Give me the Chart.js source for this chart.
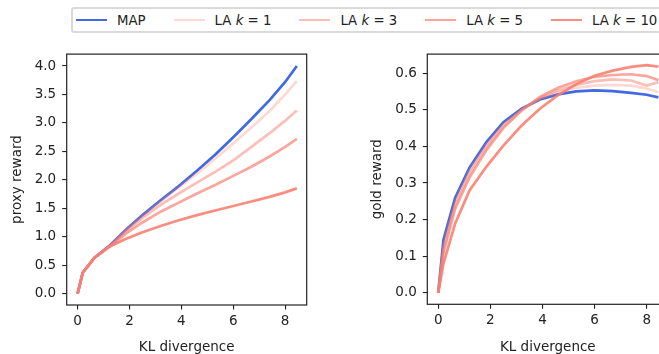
<!DOCTYPE html>
<html>
<head>
<meta charset="utf-8">
<script src="https://cdn.jsdelivr.net/npm/chart.js@4.4.1/dist/chart.umd.min.js"></script>
<style>
  html, body { margin: 0; padding: 0; width: 659px; height: 354px; overflow: hidden; background: #fff; }
  body { position: relative; font-family: "DejaVu Sans", sans-serif; }
  #legend {
    position: absolute; left: 71px; top: 7px; height: 22px; width: 620px;
    border: 2px solid #d9d9d9; border-radius: 3px; display: flex; align-items: center;
    font-size: 13.3px; color: #222; white-space: nowrap;
  }
  .item { display: flex; align-items: center; margin-right: 28px; }
  .item:first-child { margin-left: 3px; }
  .swatch { width: 31px; height: 2.7px; margin-right: 10px; }
  canvas { position: absolute; }
</style>
</head>
<body>
<div id="legend"></div>
<canvas id="proxy" width="330" height="316" style="left:0;top:40px"></canvas>
<canvas id="gold" width="360" height="316" style="left:330px;top:40px"></canvas>
<script>
// KL divergence of each checkpoint
const klValues = [0, 0.2, 0.65, 1.2, 1.85, 2.5, 3.2, 3.9, 4.6, 5.3, 6.0, 6.7, 7.4, 8.0, 8.45];

const seriesNames = ["MAP", "LA k = 1", "LA k = 3", "LA k = 5", "LA k = 10"];

// proxy reward
const proxyMAP = [0, 0.37, 0.63, 0.83, 1.12, 1.38, 1.64, 1.89, 2.16, 2.44, 2.75, 3.07, 3.40, 3.72, 4.00];
const proxyK1  = [0, 0.37, 0.63, 0.83, 1.11, 1.37, 1.62, 1.87, 2.11, 2.37, 2.64, 2.92, 3.21, 3.50, 3.74];
const proxyK3  = [0, 0.37, 0.63, 0.82, 1.09, 1.33, 1.56, 1.76, 1.95, 2.14, 2.34, 2.58, 2.82, 3.04, 3.22];
const proxyK5  = [0, 0.37, 0.63, 0.81, 1.05, 1.25, 1.44, 1.60, 1.76, 1.91, 2.07, 2.23, 2.41, 2.58, 2.72];
const proxyK10 = [0, 0.37, 0.63, 0.82, 0.96, 1.08, 1.19, 1.29, 1.38, 1.46, 1.54, 1.62, 1.70, 1.78, 1.85];

// gold reward
const goldMAP = [0, 0.145, 0.26, 0.342, 0.412, 0.466, 0.503, 0.528, 0.542, 0.550, 0.553, 0.551, 0.546, 0.541, 0.534];
const goldK1  = [0, 0.13, 0.25, 0.335, 0.405, 0.460, 0.500, 0.530, 0.548, 0.560, 0.566, 0.568, 0.566, 0.558, 0.548];
const goldK3  = [0, 0.12, 0.24, 0.325, 0.398, 0.455, 0.500, 0.532, 0.553, 0.568, 0.578, 0.583, 0.580, 0.566, 0.575];
const goldK5  = [0, 0.11, 0.23, 0.315, 0.390, 0.450, 0.498, 0.535, 0.560, 0.578, 0.590, 0.595, 0.597, 0.592, 0.581];
const goldK10 = [0, 0.08, 0.19, 0.280, 0.345, 0.402, 0.457, 0.503, 0.540, 0.570, 0.593, 0.607, 0.617, 0.622, 0.618];

const xTicks = [0, 2, 4, 6, 8];
const proxyTicks = [0, 0.5, 1, 1.5, 2, 2.5, 3, 3.5, 4];
const goldTicks = [0, 0.1, 0.2, 0.3, 0.4, 0.5, 0.6];

const colors = [
  "rgb(65,105,225)",
  "rgba(250,128,114,0.3)",
  "rgba(250,128,114,0.5)",
  "rgba(250,128,114,0.7)",
  "rgba(250,128,114,0.9)",
];
const legendColors = ["#4169e1", "#fdd9d5", "#fcbfb8", "#f9a69b", "#f88c80"];

const INK = "#222";
const FONT = { family: "DejaVu Sans", size: 13.5 };

// legend
const legend = document.getElementById("legend");
seriesNames.forEach((name, i) => {
  const item = document.createElement("div");
  item.className = "item";
  const sw = document.createElement("div");
  sw.className = "swatch";
  sw.style.background = legendColors[i];
  const txt = document.createElement("span");
  txt.innerHTML = name.replace(" k ", " <i>k</i> ");
  item.appendChild(sw);
  item.appendChild(txt);
  legend.appendChild(item);
});

// four-sided frame like matplotlib spines
const framePlugin = {
  id: "frame",
  afterDraw(chart) {
    const { ctx, chartArea: a } = chart;
    ctx.save();
    ctx.strokeStyle = INK;
    ctx.lineWidth = 1.2;
    ctx.strokeRect(a.left, a.top, a.right - a.left, a.bottom - a.top);
    ctx.restore();
  },
};

function makeDatasets(series) {
  return series.map((vals, i) => ({
    label: seriesNames[i],
    data: klValues.map((x, j) => ({ x: x, y: vals[j] })),
    borderColor: colors[i],
    borderWidth: 2.7,
    pointRadius: 0,
    tension: 0,
    fill: false,
    order: series.length - i,
  }));
}

function makeChart(id, series, yTitle, yMin, yMax, yTicks, yFmt, padLeft, yWidth, padRight, xHeight) {
  return new Chart(document.getElementById(id), {
    type: "line",
    data: { datasets: makeDatasets(series) },
    plugins: [framePlugin],
    options: {
      responsive: false,
      animation: false,
      layout: { padding: { left: padLeft, right: padRight, top: 11, bottom: 0 } },
      plugins: { legend: { display: false }, tooltip: { enabled: false } },
      scales: {
        x: {
          type: "linear",
          min: -0.42,
          max: 8.83,
          afterBuildTicks: (s) => { s.ticks = xTicks.map((v) => ({ value: v })); },
          afterFit: (s) => { s.height = xHeight; },
          border: { display: false },
          grid: { drawOnChartArea: false, drawTicks: true, tickLength: 4.5, color: INK, lineWidth: 1.1 },
          ticks: { color: INK, font: FONT, padding: 4, maxRotation: 0 },
          title: { display: true, text: "KL divergence", color: INK, font: FONT, padding: { top: 0, bottom: 0 } },
        },
        y: {
          type: "linear",
          min: yMin,
          max: yMax,
          afterBuildTicks: (s) => { s.ticks = yTicks.map((v) => ({ value: v })); },
          afterFit: (s) => { s.width = yWidth; },
          border: { display: false },
          grid: { drawOnChartArea: false, drawTicks: true, tickLength: 4.5, color: INK, lineWidth: 1.1 },
          ticks: { color: INK, font: FONT, padding: 6, callback: yFmt },
          title: { display: true, text: yTitle, color: INK, font: FONT, padding: { top: 9, bottom: 0 } },
        },
      },
    },
  });
}

makeChart("proxy", [proxyMAP, proxyK1, proxyK3, proxyK5, proxyK10], "proxy reward",
  -0.2, 4.21, proxyTicks, (v) => v.toFixed(1), 0, 66.7, 23.3, 51);
makeChart("gold", [goldMAP, goldK1, goldK3, goldK5, goldK10], "gold reward",
  -0.031, 0.652, goldTicks, (v) => v.toFixed(1), 30, 67.3, 21.7, 51.7);
</script>
</body>
</html>
